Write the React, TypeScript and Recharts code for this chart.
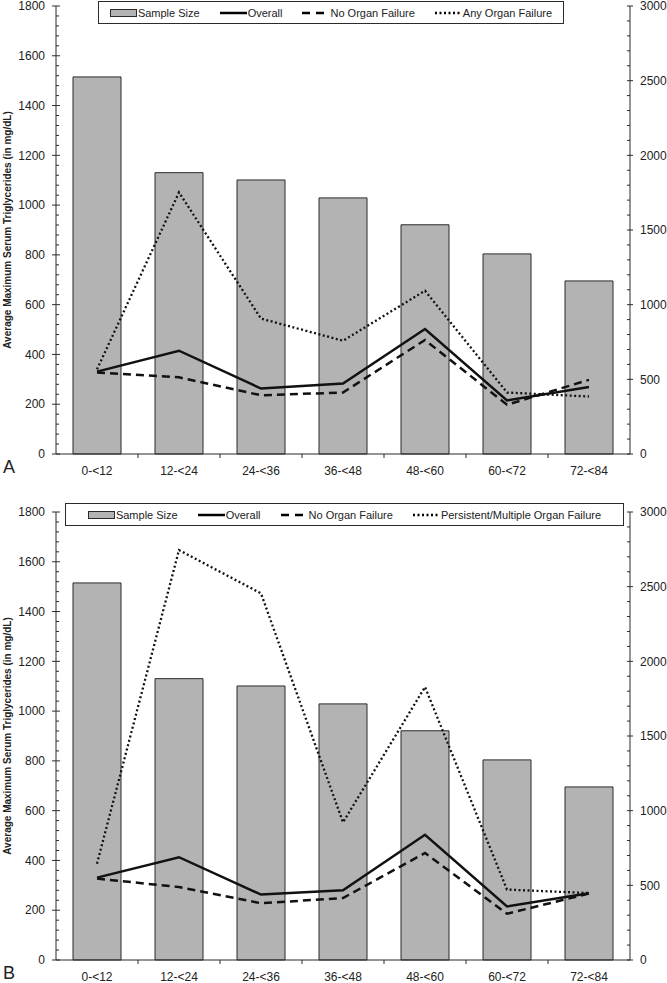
import { ComposedChart, Bar, Line, XAxis, YAxis, Legend } from "recharts";

const ageGroups = ["0-<12", "12-<24", "24-<36", "36-<48", "48-<60", "60-<72", "72-<84"];
const sampleSize = [2525, 1884, 1835, 1715, 1535, 1340, 1159];

const overallA = [331, 415, 263, 283, 502, 215, 269];
const noOrganFailureA = [327, 308, 236, 247, 458, 198, 298];
const anyOrganFailure = [340, 1051, 544, 455, 656, 247, 231];

const overallB = [331, 413, 263, 280, 503, 215, 268];
const noOrganFailureB = [327, 293, 228, 249, 430, 186, 267];
const persistentOrganFailure = [387, 1647, 1473, 553, 1097, 283, 269];

const leftTicks = Array.from({ length: 46 }, (_, i) => i * 40);
const rightTicks = Array.from({ length: 31 }, (_, i) => i * 100);

const font = "'Liberation Sans', Arial, sans-serif";
const ink = "#2b2b2b";
const barFill = "#b3b3b3";
const halfBand = (630 - 56) / 7 / 2;

const LeftTick = (props: any) => {
  const { x, y, payload } = props;
  const v = payload.value;
  const major = v % 200 === 0;
  return (
    <g>
      {major ? (
        <line x1={x - 4} x2={x + 4} y1={y} y2={y} stroke={ink} />
      ) : (
        <line x1={x} x2={x + 3} y1={y} y2={y} stroke={ink} />
      )}
      {major && (
        <text x={x - 11} y={y} dy="0.35em" textAnchor="end" fontSize={12} fill="#222" fontFamily={font}>
          {v}
        </text>
      )}
    </g>
  );
};

const RightTick = (props: any) => {
  const { x, y, payload } = props;
  const v = payload.value;
  const major = v % 500 === 0;
  return (
    <g>
      {major ? (
        <line x1={x - 3} x2={x + 3} y1={y} y2={y} stroke={ink} />
      ) : (
        <line x1={x - 3} x2={x} y1={y} y2={y} stroke={ink} />
      )}
      {major && (
        <text x={x + 10} y={y} dy="0.35em" textAnchor="start" fontSize={12} fill="#222" fontFamily={font}>
          {v}
        </text>
      )}
    </g>
  );
};

const CategoryTick = (props: any) => {
  const { x, y, payload, index } = props;
  return (
    <g>
      {index < ageGroups.length - 1 && (
        <line x1={x + halfBand} x2={x + halfBand} y1={y} y2={y + 4} stroke={ink} />
      )}
      <text x={x} y={y + 21} textAnchor="middle" fontSize={12} fill="#222" fontFamily={font}>
        {payload.value}
      </text>
    </g>
  );
};

const AxisTitle = (props: any) => {
  const vb = props.viewBox;
  const cy = vb.y + vb.height / 2;
  return (
    <text
      x={11}
      y={cy}
      transform={`rotate(-90, 11, ${cy})`}
      textAnchor="middle"
      fontSize={10}
      fontWeight="bold"
      fill="#222"
      fontFamily={font}
    >
      Average Maximum Serum Triglycerides (in mg/dL)
    </text>
  );
};

function Swatch({ kind }: { kind: string }) {
  return (
    <svg width={27} height={10} style={{ display: "block" }}>
      {kind === "bar" ? (
        <rect x={0.5} y={1.5} width={26} height={7} fill={barFill} stroke={ink} />
      ) : (
        <line
          x1={0}
          x2={27}
          y1={5}
          y2={5}
          stroke="#000"
          strokeWidth={2.5}
          strokeDasharray={kind === "dash" ? "8 6" : kind === "dot" ? "2 2.5" : undefined}
        />
      )}
    </svg>
  );
}

function Panel(props: any) {
  const { top, marginTop, height, letter, overall, noFailure, failure, failureName, legendLeft, legendWidth, legendTop } = props;
  const rows = ageGroups.map((age, i) => ({
    age,
    sample: sampleSize[i],
    overall: overall[i],
    noFailure: noFailure[i],
    failure: failure[i],
  }));
  const legendItems = [
    { kind: "bar", name: "Sample Size" },
    { kind: "solid", name: "Overall" },
    { kind: "dash", name: "No Organ Failure" },
    { kind: "dot", name: failureName },
  ];
  const xHeight = height - marginTop - 448;
  return (
    <div style={{ position: "absolute", left: 0, top, width: 667, height }}>
      <ComposedChart width={667} height={height} data={rows} margin={{ top: marginTop, right: 0, left: 0, bottom: 0 }}>
        <XAxis
          dataKey="age"
          height={xHeight}
          tickSize={0}
          tickMargin={0}
          tickLine={false}
          interval={0}
          tick={<CategoryTick />}
          axisLine={{ stroke: ink }}
        />
        <YAxis
          yAxisId="left"
          width={56}
          domain={[0, 1800]}
          ticks={leftTicks}
          interval={0}
          tickSize={0}
          tickMargin={0}
          tickLine={false}
          tick={<LeftTick />}
          axisLine={{ stroke: ink }}
          label={<AxisTitle />}
        />
        <YAxis
          yAxisId="right"
          orientation="right"
          width={37}
          domain={[0, 3000]}
          ticks={rightTicks}
          interval={0}
          tickSize={0}
          tickMargin={0}
          tickLine={false}
          tick={<RightTick />}
          axisLine={{ stroke: ink }}
        />
        <Legend
          align="center"
          verticalAlign="middle"
          wrapperStyle={{ top: legendTop, left: legendLeft, width: legendWidth }}
          content={() => (
            <div
              style={{
                boxSizing: "border-box",
                width: legendWidth,
                height: 23,
                border: `1.5px solid ${ink}`,
                background: "#fff",
                display: "flex",
                alignItems: "center",
                justifyContent: "center",
                gap: 20,
                fontFamily: font,
                fontSize: 11,
                color: "#222",
              }}
            >
              {legendItems.map((it) => (
                <div key={it.name} style={{ display: "flex", alignItems: "center" }}>
                  <Swatch kind={it.kind} />
                  <span style={{ marginLeft: 1 }}>{it.name}</span>
                </div>
              ))}
            </div>
          )}
        />
        <Bar
          yAxisId="right"
          dataKey="sample"
          name="Sample Size"
          barSize={48}
          fill={barFill}
          stroke={ink}
          strokeWidth={1}
          isAnimationActive={false}
        />
        <Line
          yAxisId="left"
          dataKey="failure"
          name={failureName}
          stroke="#111"
          strokeWidth={2.3}
          strokeDasharray="2 2.5"
          dot={false}
          isAnimationActive={false}
        />
        <Line
          yAxisId="left"
          dataKey="noFailure"
          name="No Organ Failure"
          stroke="#111"
          strokeWidth={2.5}
          strokeDasharray="8 5"
          dot={false}
          isAnimationActive={false}
        />
        <Line
          yAxisId="left"
          dataKey="overall"
          name="Overall"
          stroke="#111"
          strokeWidth={2.5}
          dot={false}
          isAnimationActive={false}
        />
      </ComposedChart>
      <div
        style={{
          position: "absolute",
          left: 3,
          top: marginTop + 448 + 4,
          fontFamily: font,
          fontSize: 18,
          lineHeight: "18px",
          color: "#222",
        }}
      >
        {letter}
      </div>
    </div>
  );
}

export default function App() {
  return (
    <div style={{ position: "absolute", left: 0, top: 0, width: 667, height: 983, overflow: "hidden", background: "#fff" }}>
      <Panel
        top={0}
        marginTop={6}
        height={496}
        letter="A"
        overall={overallA}
        noFailure={noOrganFailureA}
        failure={anyOrganFailure}
        failureName="Any Organ Failure"
        legendLeft={98}
        legendWidth={466}
        legendTop={1}
      />
      <Panel
        top={496}
        marginTop={16}
        height={487}
        letter="B"
        overall={overallB}
        noFailure={noOrganFailureB}
        failure={persistentOrganFailure}
        failureName="Persistent/Multiple Organ Failure"
        legendLeft={65}
        legendWidth={559}
        legendTop={7}
      />
    </div>
  );
}
